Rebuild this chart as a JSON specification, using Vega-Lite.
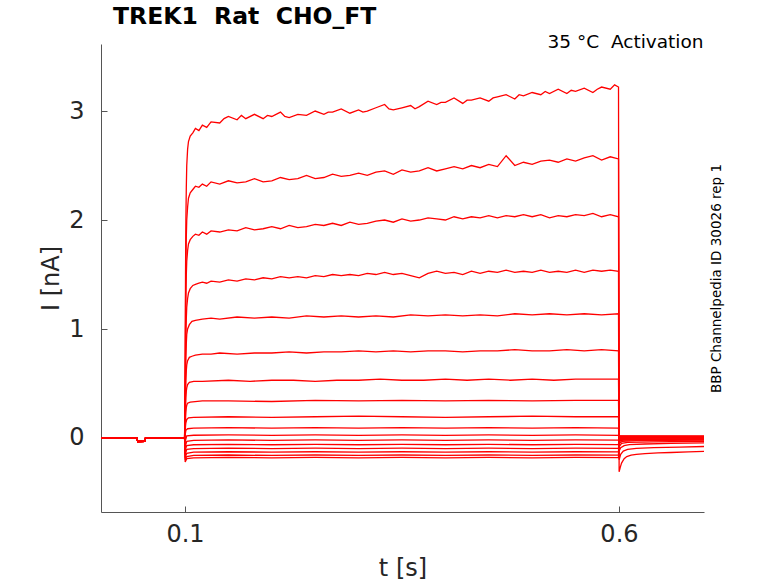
{
"$schema": "https://vega.github.io/schema/vega-lite/v6.json",
"width": 603, "height": 468,
"autosize": {"type": "none"},
"padding": {"left": 101, "top": 44, "right": 74, "bottom": 71},
"background": "white",
"title": {"text": "TREK1\u00a0\u00a0Rat\u00a0\u00a0CHO_FT", "anchor": "start", "frame": "group", "dx": 12, "offset": 4, "fontSize": 23.5, "fontWeight": "bold", "font": "DejaVu Sans", "color": "#000000"},
"config": {"view": {"stroke": null}, "font": "DejaVu Sans", "axis": {"grid": false}},
"datasets": {"traces": [
{"s":1,"t":0.0032,"v":0},{"s":1,"t":0.0445,"v":0.001},{"s":1,"t":0.0455,"v":-0.032},{"s":1,"t":0.0535,"v":-0.03},{"s":1,"t":0.0545,"v":0.001},{"s":1,"t":0.0995,"v":0},
{"s":1,"t":0.1002,"v":0.6},{"s":1,"t":0.1006,"v":1.5},{"s":1,"t":0.101,"v":2.0},{"s":1,"t":0.1015,"v":2.3},{"s":1,"t":0.102,"v":2.5},{"s":1,"t":0.103,"v":2.65},{"s":1,"t":0.104,"v":2.72},{"s":1,"t":0.106,"v":2.77},{"s":1,"t":0.109,"v":2.8},{"s":1,"t":0.112,"v":2.84},{"s":1,"t":0.116,"v":2.82},{"s":1,"t":0.12,"v":2.87},{"s":1,"t":0.125,"v":2.85},{"s":1,"t":0.13,"v":2.9},
{"s":1,"t":0.14,"v":2.89},{"s":1,"t":0.145,"v":2.93},{"s":1,"t":0.15,"v":2.95},{"s":1,"t":0.16,"v":2.92},{"s":1,"t":0.165,"v":2.96},{"s":1,"t":0.17,"v":2.93},{"s":1,"t":0.18,"v":2.97},{"s":1,"t":0.19,"v":2.93},{"s":1,"t":0.195,"v":2.96},{"s":1,"t":0.2,"v":2.95},{"s":1,"t":0.21,"v":2.99},{"s":1,"t":0.215,"v":2.95},{"s":1,"t":0.22,"v":2.94},{"s":1,"t":0.23,"v":2.97},{"s":1,"t":0.24,"v":2.96},{"s":1,"t":0.25,"v":3.0},{"s":1,"t":0.26,"v":2.97},{"s":1,"t":0.265,"v":2.99},{"s":1,"t":0.27,"v":2.99},{"s":1,"t":0.28,"v":3.02},{"s":1,"t":0.29,"v":2.98},{"s":1,"t":0.3,"v":3.01},{"s":1,"t":0.305,"v":2.99},{"s":1,"t":0.31,"v":3.0},{"s":1,"t":0.32,"v":3.03},{"s":1,"t":0.33,"v":3.06},{"s":1,"t":0.335,"v":3.02},{"s":1,"t":0.34,"v":3.01},{"s":1,"t":0.35,"v":3.03},{"s":1,"t":0.36,"v":3.05},{"s":1,"t":0.365,"v":3.02},{"s":1,"t":0.37,"v":3.04},{"s":1,"t":0.38,"v":3.09},{"s":1,"t":0.39,"v":3.06},{"s":1,"t":0.395,"v":3.08},{"s":1,"t":0.4,"v":3.08},{"s":1,"t":0.41,"v":3.12},{"s":1,"t":0.42,"v":3.07},{"s":1,"t":0.425,"v":3.1},{"s":1,"t":0.43,"v":3.1},{"s":1,"t":0.44,"v":3.12},{"s":1,"t":0.45,"v":3.09},{"s":1,"t":0.455,"v":3.12},{"s":1,"t":0.46,"v":3.13},{"s":1,"t":0.47,"v":3.15},{"s":1,"t":0.48,"v":3.11},{"s":1,"t":0.485,"v":3.15},{"s":1,"t":0.49,"v":3.14},{"s":1,"t":0.5,"v":3.17},{"s":1,"t":0.51,"v":3.15},{"s":1,"t":0.515,"v":3.18},{"s":1,"t":0.52,"v":3.16},{"s":1,"t":0.53,"v":3.2},{"s":1,"t":0.54,"v":3.16},{"s":1,"t":0.545,"v":3.19},{"s":1,"t":0.55,"v":3.18},{"s":1,"t":0.56,"v":3.21},{"s":1,"t":0.57,"v":3.17},{"s":1,"t":0.575,"v":3.2},{"s":1,"t":0.58,"v":3.22},{"s":1,"t":0.59,"v":3.2},{"s":1,"t":0.595,"v":3.24},{"s":1,"t":0.5995,"v":3.22},
{"s":1,"t":0.6002,"v":-0.31},{"s":1,"t":0.6015,"v":-0.27},{"s":1,"t":0.603,"v":-0.23},{"s":1,"t":0.606,"v":-0.19},{"s":1,"t":0.609,"v":-0.17},{"s":1,"t":0.614,"v":-0.158},{"s":1,"t":0.62,"v":-0.15},{"s":1,"t":0.63,"v":-0.143},{"s":1,"t":0.645,"v":-0.137},{"s":1,"t":0.66,"v":-0.133},{"s":1,"t":0.68,"v":-0.128},{"s":1,"t":0.698,"v":-0.122},
{"s":2,"t":0.0032,"v":0},{"s":2,"t":0.0445,"v":0.001},{"s":2,"t":0.0455,"v":-0.032},{"s":2,"t":0.0535,"v":-0.03},{"s":2,"t":0.0545,"v":0.001},{"s":2,"t":0.0995,"v":0},
{"s":2,"t":0.1002,"v":0.5},{"s":2,"t":0.1006,"v":1.2},{"s":2,"t":0.101,"v":1.6},{"s":2,"t":0.1015,"v":1.85},{"s":2,"t":0.102,"v":2.0},{"s":2,"t":0.103,"v":2.12},{"s":2,"t":0.104,"v":2.2},{"s":2,"t":0.106,"v":2.25},{"s":2,"t":0.109,"v":2.28},{"s":2,"t":0.112,"v":2.31},{"s":2,"t":0.116,"v":2.3},{"s":2,"t":0.12,"v":2.33},{"s":2,"t":0.125,"v":2.31},{"s":2,"t":0.13,"v":2.35},
{"s":2,"t":0.14,"v":2.33},{"s":2,"t":0.15,"v":2.36},{"s":2,"t":0.16,"v":2.34},{"s":2,"t":0.17,"v":2.35},{"s":2,"t":0.18,"v":2.38},{"s":2,"t":0.19,"v":2.35},{"s":2,"t":0.2,"v":2.36},{"s":2,"t":0.21,"v":2.39},{"s":2,"t":0.22,"v":2.37},{"s":2,"t":0.23,"v":2.38},{"s":2,"t":0.24,"v":2.41},{"s":2,"t":0.25,"v":2.38},{"s":2,"t":0.26,"v":2.39},{"s":2,"t":0.27,"v":2.42},{"s":2,"t":0.28,"v":2.4},{"s":2,"t":0.29,"v":2.41},{"s":2,"t":0.3,"v":2.43},{"s":2,"t":0.31,"v":2.41},{"s":2,"t":0.32,"v":2.44},{"s":2,"t":0.33,"v":2.45},{"s":2,"t":0.34,"v":2.42},{"s":2,"t":0.35,"v":2.46},{"s":2,"t":0.36,"v":2.44},{"s":2,"t":0.37,"v":2.45},{"s":2,"t":0.38,"v":2.48},{"s":2,"t":0.39,"v":2.45},{"s":2,"t":0.4,"v":2.47},{"s":2,"t":0.41,"v":2.49},{"s":2,"t":0.42,"v":2.47},{"s":2,"t":0.43,"v":2.5},{"s":2,"t":0.44,"v":2.48},{"s":2,"t":0.45,"v":2.51},{"s":2,"t":0.46,"v":2.49},{"s":2,"t":0.47,"v":2.59},{"s":2,"t":0.48,"v":2.5},{"s":2,"t":0.49,"v":2.53},{"s":2,"t":0.5,"v":2.51},{"s":2,"t":0.51,"v":2.54},{"s":2,"t":0.52,"v":2.55},{"s":2,"t":0.53,"v":2.53},{"s":2,"t":0.54,"v":2.56},{"s":2,"t":0.55,"v":2.54},{"s":2,"t":0.56,"v":2.57},{"s":2,"t":0.57,"v":2.59},{"s":2,"t":0.58,"v":2.55},{"s":2,"t":0.59,"v":2.58},{"s":2,"t":0.5995,"v":2.56},
{"s":2,"t":0.6002,"v":-0.2},{"s":2,"t":0.602,"v":-0.15},{"s":2,"t":0.605,"v":-0.12},{"s":2,"t":0.61,"v":-0.105},{"s":2,"t":0.62,"v":-0.095},{"s":2,"t":0.64,"v":-0.088},{"s":2,"t":0.67,"v":-0.083},{"s":2,"t":0.698,"v":-0.078},
{"s":3,"t":0.0032,"v":0},{"s":3,"t":0.0445,"v":0.001},{"s":3,"t":0.0455,"v":-0.032},{"s":3,"t":0.0535,"v":-0.03},{"s":3,"t":0.0545,"v":0.001},{"s":3,"t":0.0995,"v":0},
{"s":3,"t":0.1002,"v":0.4},{"s":3,"t":0.1006,"v":0.95},{"s":3,"t":0.101,"v":1.3},{"s":3,"t":0.1015,"v":1.5},{"s":3,"t":0.102,"v":1.62},{"s":3,"t":0.103,"v":1.72},{"s":3,"t":0.104,"v":1.78},{"s":3,"t":0.106,"v":1.82},{"s":3,"t":0.109,"v":1.85},{"s":3,"t":0.112,"v":1.87},{"s":3,"t":0.116,"v":1.86},{"s":3,"t":0.12,"v":1.89},{"s":3,"t":0.125,"v":1.87},{"s":3,"t":0.13,"v":1.9},
{"s":3,"t":0.14,"v":1.89},{"s":3,"t":0.15,"v":1.91},{"s":3,"t":0.16,"v":1.9},{"s":3,"t":0.17,"v":1.93},{"s":3,"t":0.18,"v":1.91},{"s":3,"t":0.19,"v":1.92},{"s":3,"t":0.2,"v":1.94},{"s":3,"t":0.21,"v":1.92},{"s":3,"t":0.22,"v":1.95},{"s":3,"t":0.23,"v":1.93},{"s":3,"t":0.24,"v":1.94},{"s":3,"t":0.25,"v":1.96},{"s":3,"t":0.26,"v":1.95},{"s":3,"t":0.27,"v":1.97},{"s":3,"t":0.28,"v":1.95},{"s":3,"t":0.29,"v":1.98},{"s":3,"t":0.3,"v":1.96},{"s":3,"t":0.31,"v":1.97},{"s":3,"t":0.32,"v":1.99},{"s":3,"t":0.33,"v":2.0},{"s":3,"t":0.34,"v":1.98},{"s":3,"t":0.35,"v":2.01},{"s":3,"t":0.36,"v":1.99},{"s":3,"t":0.37,"v":2.0},{"s":3,"t":0.38,"v":2.02},{"s":3,"t":0.39,"v":2.01},{"s":3,"t":0.4,"v":2.0},{"s":3,"t":0.41,"v":2.03},{"s":3,"t":0.42,"v":2.01},{"s":3,"t":0.43,"v":2.03},{"s":3,"t":0.44,"v":2.02},{"s":3,"t":0.45,"v":2.04},{"s":3,"t":0.46,"v":2.02},{"s":3,"t":0.47,"v":2.04},{"s":3,"t":0.48,"v":2.03},{"s":3,"t":0.49,"v":2.05},{"s":3,"t":0.5,"v":2.03},{"s":3,"t":0.51,"v":2.05},{"s":3,"t":0.52,"v":2.02},{"s":3,"t":0.53,"v":2.04},{"s":3,"t":0.54,"v":2.03},{"s":3,"t":0.55,"v":2.05},{"s":3,"t":0.56,"v":2.04},{"s":3,"t":0.57,"v":2.06},{"s":3,"t":0.58,"v":2.03},{"s":3,"t":0.59,"v":2.05},{"s":3,"t":0.5995,"v":2.03},
{"s":3,"t":0.6002,"v":-0.12},{"s":3,"t":0.602,"v":-0.09},{"s":3,"t":0.606,"v":-0.07},{"s":3,"t":0.612,"v":-0.06},{"s":3,"t":0.63,"v":-0.055},{"s":3,"t":0.66,"v":-0.05},{"s":3,"t":0.698,"v":-0.045},
{"s":4,"t":0.0032,"v":0},{"s":4,"t":0.0445,"v":0.001},{"s":4,"t":0.0455,"v":-0.032},{"s":4,"t":0.0535,"v":-0.03},{"s":4,"t":0.0545,"v":0.001},{"s":4,"t":0.0995,"v":0},
{"s":4,"t":0.1002,"v":0.3},{"s":4,"t":0.1006,"v":0.7},{"s":4,"t":0.101,"v":0.95},{"s":4,"t":0.1015,"v":1.1},{"s":4,"t":0.102,"v":1.2},{"s":4,"t":0.103,"v":1.28},{"s":4,"t":0.104,"v":1.33},{"s":4,"t":0.106,"v":1.37},{"s":4,"t":0.109,"v":1.4},{"s":4,"t":0.112,"v":1.41},{"s":4,"t":0.116,"v":1.42},{"s":4,"t":0.12,"v":1.43},{"s":4,"t":0.125,"v":1.42},{"s":4,"t":0.13,"v":1.44},
{"s":4,"t":0.14,"v":1.43},{"s":4,"t":0.15,"v":1.45},{"s":4,"t":0.16,"v":1.44},{"s":4,"t":0.17,"v":1.46},{"s":4,"t":0.18,"v":1.45},{"s":4,"t":0.19,"v":1.47},{"s":4,"t":0.2,"v":1.46},{"s":4,"t":0.21,"v":1.48},{"s":4,"t":0.22,"v":1.47},{"s":4,"t":0.23,"v":1.48},{"s":4,"t":0.24,"v":1.47},{"s":4,"t":0.25,"v":1.49},{"s":4,"t":0.26,"v":1.48},{"s":4,"t":0.27,"v":1.5},{"s":4,"t":0.28,"v":1.49},{"s":4,"t":0.29,"v":1.5},{"s":4,"t":0.3,"v":1.49},{"s":4,"t":0.31,"v":1.51},{"s":4,"t":0.32,"v":1.5},{"s":4,"t":0.33,"v":1.52},{"s":4,"t":0.34,"v":1.5},{"s":4,"t":0.35,"v":1.51},{"s":4,"t":0.36,"v":1.49},{"s":4,"t":0.37,"v":1.47},{"s":4,"t":0.38,"v":1.51},{"s":4,"t":0.39,"v":1.53},{"s":4,"t":0.4,"v":1.51},{"s":4,"t":0.41,"v":1.52},{"s":4,"t":0.42,"v":1.5},{"s":4,"t":0.43,"v":1.53},{"s":4,"t":0.44,"v":1.51},{"s":4,"t":0.45,"v":1.53},{"s":4,"t":0.46,"v":1.52},{"s":4,"t":0.47,"v":1.54},{"s":4,"t":0.48,"v":1.52},{"s":4,"t":0.49,"v":1.53},{"s":4,"t":0.5,"v":1.52},{"s":4,"t":0.51,"v":1.54},{"s":4,"t":0.52,"v":1.52},{"s":4,"t":0.53,"v":1.53},{"s":4,"t":0.54,"v":1.52},{"s":4,"t":0.55,"v":1.54},{"s":4,"t":0.56,"v":1.52},{"s":4,"t":0.57,"v":1.54},{"s":4,"t":0.58,"v":1.53},{"s":4,"t":0.59,"v":1.54},{"s":4,"t":0.5995,"v":1.53},
{"s":4,"t":0.6002,"v":-0.08},{"s":4,"t":0.603,"v":-0.05},{"s":4,"t":0.61,"v":-0.04},{"s":4,"t":0.64,"v":-0.035},{"s":4,"t":0.698,"v":-0.03},
{"s":5,"t":0.0032,"v":0},{"s":5,"t":0.0445,"v":0.001},{"s":5,"t":0.0455,"v":-0.032},{"s":5,"t":0.0535,"v":-0.03},{"s":5,"t":0.0545,"v":0.001},{"s":5,"t":0.0995,"v":0},
{"s":5,"t":0.1002,"v":0.25},{"s":5,"t":0.1006,"v":0.55},{"s":5,"t":0.101,"v":0.75},{"s":5,"t":0.1015,"v":0.87},{"s":5,"t":0.102,"v":0.95},{"s":5,"t":0.103,"v":1.0},{"s":5,"t":0.105,"v":1.04},{"s":5,"t":0.108,"v":1.07},{"s":5,"t":0.112,"v":1.08},{"s":5,"t":0.12,"v":1.09},{"s":5,"t":0.13,"v":1.1},
{"s":5,"t":0.14,"v":1.09},{"s":5,"t":0.16,"v":1.11},{"s":5,"t":0.18,"v":1.1},{"s":5,"t":0.2,"v":1.11},{"s":5,"t":0.22,"v":1.1},{"s":5,"t":0.24,"v":1.12},{"s":5,"t":0.26,"v":1.11},{"s":5,"t":0.28,"v":1.12},{"s":5,"t":0.3,"v":1.11},{"s":5,"t":0.32,"v":1.12},{"s":5,"t":0.34,"v":1.11},{"s":5,"t":0.36,"v":1.13},{"s":5,"t":0.38,"v":1.12},{"s":5,"t":0.4,"v":1.13},{"s":5,"t":0.42,"v":1.12},{"s":5,"t":0.44,"v":1.13},{"s":5,"t":0.46,"v":1.12},{"s":5,"t":0.48,"v":1.14},{"s":5,"t":0.5,"v":1.13},{"s":5,"t":0.52,"v":1.14},{"s":5,"t":0.54,"v":1.13},{"s":5,"t":0.56,"v":1.14},{"s":5,"t":0.58,"v":1.13},{"s":5,"t":0.5995,"v":1.14},
{"s":5,"t":0.6002,"v":-0.05},{"s":5,"t":0.604,"v":-0.03},{"s":5,"t":0.62,"v":-0.025},{"s":5,"t":0.698,"v":-0.02},
{"s":6,"t":0.0032,"v":0},{"s":6,"t":0.0445,"v":0.001},{"s":6,"t":0.0455,"v":-0.032},{"s":6,"t":0.0535,"v":-0.03},{"s":6,"t":0.0545,"v":0.001},{"s":6,"t":0.0995,"v":0},
{"s":6,"t":0.1002,"v":0.18},{"s":6,"t":0.1006,"v":0.4},{"s":6,"t":0.101,"v":0.53},{"s":6,"t":0.1015,"v":0.62},{"s":6,"t":0.102,"v":0.67},{"s":6,"t":0.103,"v":0.71},{"s":6,"t":0.105,"v":0.74},{"s":6,"t":0.108,"v":0.75},{"s":6,"t":0.112,"v":0.76},{"s":6,"t":0.12,"v":0.77},{"s":6,"t":0.13,"v":0.77},
{"s":6,"t":0.14,"v":0.78},{"s":6,"t":0.16,"v":0.77},{"s":6,"t":0.18,"v":0.78},{"s":6,"t":0.2,"v":0.78},{"s":6,"t":0.22,"v":0.79},{"s":6,"t":0.24,"v":0.78},{"s":6,"t":0.26,"v":0.79},{"s":6,"t":0.28,"v":0.79},{"s":6,"t":0.3,"v":0.8},{"s":6,"t":0.32,"v":0.79},{"s":6,"t":0.34,"v":0.8},{"s":6,"t":0.36,"v":0.79},{"s":6,"t":0.38,"v":0.8},{"s":6,"t":0.4,"v":0.8},{"s":6,"t":0.42,"v":0.79},{"s":6,"t":0.44,"v":0.8},{"s":6,"t":0.46,"v":0.8},{"s":6,"t":0.48,"v":0.81},{"s":6,"t":0.5,"v":0.8},{"s":6,"t":0.52,"v":0.8},{"s":6,"t":0.54,"v":0.81},{"s":6,"t":0.56,"v":0.8},{"s":6,"t":0.58,"v":0.81},{"s":6,"t":0.5995,"v":0.8},
{"s":6,"t":0.6002,"v":-0.035},{"s":6,"t":0.604,"v":-0.02},{"s":6,"t":0.62,"v":-0.018},{"s":6,"t":0.698,"v":-0.015},
{"s":7,"t":0.0032,"v":0},{"s":7,"t":0.0445,"v":0.001},{"s":7,"t":0.0455,"v":-0.032},{"s":7,"t":0.0535,"v":-0.03},{"s":7,"t":0.0545,"v":0.001},{"s":7,"t":0.0995,"v":0},
{"s":7,"t":0.1002,"v":0.12},{"s":7,"t":0.1006,"v":0.28},{"s":7,"t":0.101,"v":0.37},{"s":7,"t":0.1015,"v":0.43},{"s":7,"t":0.102,"v":0.46},{"s":7,"t":0.103,"v":0.49},{"s":7,"t":0.105,"v":0.51},{"s":7,"t":0.11,"v":0.52},{"s":7,"t":0.12,"v":0.52},
{"s":7,"t":0.15,"v":0.53},{"s":7,"t":0.175,"v":0.52},{"s":7,"t":0.2,"v":0.53},{"s":7,"t":0.225,"v":0.53},{"s":7,"t":0.25,"v":0.52},{"s":7,"t":0.275,"v":0.53},{"s":7,"t":0.3,"v":0.53},{"s":7,"t":0.325,"v":0.54},{"s":7,"t":0.35,"v":0.53},{"s":7,"t":0.375,"v":0.53},{"s":7,"t":0.4,"v":0.54},{"s":7,"t":0.425,"v":0.53},{"s":7,"t":0.45,"v":0.54},{"s":7,"t":0.475,"v":0.53},{"s":7,"t":0.5,"v":0.54},{"s":7,"t":0.525,"v":0.53},{"s":7,"t":0.55,"v":0.54},{"s":7,"t":0.575,"v":0.54},{"s":7,"t":0.5995,"v":0.54},
{"s":7,"t":0.6002,"v":-0.025},{"s":7,"t":0.605,"v":-0.015},{"s":7,"t":0.698,"v":-0.012},
{"s":8,"t":0.0032,"v":0},{"s":8,"t":0.0445,"v":0.001},{"s":8,"t":0.0455,"v":-0.032},{"s":8,"t":0.0535,"v":-0.03},{"s":8,"t":0.0545,"v":0.001},{"s":8,"t":0.0995,"v":0},
{"s":8,"t":0.1002,"v":0.08},{"s":8,"t":0.1006,"v":0.18},{"s":8,"t":0.101,"v":0.24},{"s":8,"t":0.1015,"v":0.28},{"s":8,"t":0.102,"v":0.3},{"s":8,"t":0.103,"v":0.32},{"s":8,"t":0.106,"v":0.33},{"s":8,"t":0.12,"v":0.34},
{"s":8,"t":0.15,"v":0.34},{"s":8,"t":0.2,"v":0.335},{"s":8,"t":0.25,"v":0.345},{"s":8,"t":0.3,"v":0.34},{"s":8,"t":0.35,"v":0.345},{"s":8,"t":0.4,"v":0.34},{"s":8,"t":0.45,"v":0.345},{"s":8,"t":0.5,"v":0.34},{"s":8,"t":0.55,"v":0.345},{"s":8,"t":0.5995,"v":0.345},
{"s":8,"t":0.6002,"v":-0.02},{"s":8,"t":0.605,"v":-0.01},{"s":8,"t":0.698,"v":-0.01},
{"s":9,"t":0.0032,"v":0},{"s":9,"t":0.0445,"v":0.001},{"s":9,"t":0.0455,"v":-0.032},{"s":9,"t":0.0535,"v":-0.03},{"s":9,"t":0.0545,"v":0.001},{"s":9,"t":0.0995,"v":0},
{"s":9,"t":0.1002,"v":0.05},{"s":9,"t":0.1006,"v":0.11},{"s":9,"t":0.101,"v":0.14},{"s":9,"t":0.102,"v":0.17},{"s":9,"t":0.104,"v":0.185},{"s":9,"t":0.11,"v":0.19},{"s":9,"t":0.15,"v":0.195},{"s":9,"t":0.2,"v":0.19},{"s":9,"t":0.25,"v":0.195},{"s":9,"t":0.3,"v":0.2},{"s":9,"t":0.35,"v":0.195},{"s":9,"t":0.4,"v":0.19},{"s":9,"t":0.45,"v":0.195},{"s":9,"t":0.5,"v":0.2},{"s":9,"t":0.55,"v":0.195},{"s":9,"t":0.5995,"v":0.195},
{"s":9,"t":0.6002,"v":-0.012},{"s":9,"t":0.698,"v":-0.006},
{"s":10,"t":0.0032,"v":0},{"s":10,"t":0.0445,"v":0.001},{"s":10,"t":0.0455,"v":-0.032},{"s":10,"t":0.0535,"v":-0.03},{"s":10,"t":0.0545,"v":0.001},{"s":10,"t":0.0995,"v":0},
{"s":10,"t":0.1002,"v":0.03},{"s":10,"t":0.101,"v":0.07},{"s":10,"t":0.103,"v":0.085},{"s":10,"t":0.11,"v":0.09},{"s":10,"t":0.15,"v":0.095},{"s":10,"t":0.2,"v":0.09},{"s":10,"t":0.25,"v":0.095},{"s":10,"t":0.3,"v":0.09},{"s":10,"t":0.35,"v":0.095},{"s":10,"t":0.4,"v":0.09},{"s":10,"t":0.45,"v":0.095},{"s":10,"t":0.5,"v":0.09},{"s":10,"t":0.55,"v":0.095},{"s":10,"t":0.5995,"v":0.09},
{"s":10,"t":0.6002,"v":-0.004},{"s":10,"t":0.698,"v":-0.002},
{"s":11,"t":0.0032,"v":0},{"s":11,"t":0.0445,"v":0.001},{"s":11,"t":0.0455,"v":-0.032},{"s":11,"t":0.0535,"v":-0.03},{"s":11,"t":0.0545,"v":0.001},{"s":11,"t":0.0995,"v":0},
{"s":11,"t":0.1002,"v":-0.03},{"s":11,"t":0.102,"v":0.02},{"s":11,"t":0.11,"v":0.025},{"s":11,"t":0.15,"v":0.028},{"s":11,"t":0.2,"v":0.024},{"s":11,"t":0.25,"v":0.028},{"s":11,"t":0.3,"v":0.024},{"s":11,"t":0.35,"v":0.028},{"s":11,"t":0.4,"v":0.024},{"s":11,"t":0.45,"v":0.028},{"s":11,"t":0.5,"v":0.024},{"s":11,"t":0.55,"v":0.028},{"s":11,"t":0.5995,"v":0.025},
{"s":11,"t":0.6002,"v":0.002},{"s":11,"t":0.698,"v":0.003},
{"s":12,"t":0.0032,"v":0},{"s":12,"t":0.0445,"v":0.001},{"s":12,"t":0.0455,"v":-0.032},{"s":12,"t":0.0535,"v":-0.03},{"s":12,"t":0.0545,"v":0.001},{"s":12,"t":0.0995,"v":0},
{"s":12,"t":0.1002,"v":-0.08},{"s":12,"t":0.102,"v":-0.03},{"s":12,"t":0.11,"v":-0.022},{"s":12,"t":0.15,"v":-0.018},{"s":12,"t":0.2,"v":-0.022},{"s":12,"t":0.25,"v":-0.018},{"s":12,"t":0.3,"v":-0.022},{"s":12,"t":0.35,"v":-0.018},{"s":12,"t":0.4,"v":-0.022},{"s":12,"t":0.45,"v":-0.018},{"s":12,"t":0.5,"v":-0.022},{"s":12,"t":0.55,"v":-0.018},{"s":12,"t":0.5995,"v":-0.02},
{"s":12,"t":0.6002,"v":0.006},{"s":12,"t":0.698,"v":0.006},
{"s":13,"t":0.0032,"v":0},{"s":13,"t":0.0445,"v":0.001},{"s":13,"t":0.0455,"v":-0.032},{"s":13,"t":0.0535,"v":-0.03},{"s":13,"t":0.0545,"v":0.001},{"s":13,"t":0.0995,"v":0},
{"s":13,"t":0.1002,"v":-0.11},{"s":13,"t":0.102,"v":-0.07},{"s":13,"t":0.11,"v":-0.062},{"s":13,"t":0.15,"v":-0.058},{"s":13,"t":0.2,"v":-0.062},{"s":13,"t":0.25,"v":-0.058},{"s":13,"t":0.3,"v":-0.062},{"s":13,"t":0.35,"v":-0.058},{"s":13,"t":0.4,"v":-0.062},{"s":13,"t":0.45,"v":-0.058},{"s":13,"t":0.5,"v":-0.062},{"s":13,"t":0.55,"v":-0.058},{"s":13,"t":0.5995,"v":-0.06},
{"s":13,"t":0.6002,"v":0.01},{"s":13,"t":0.698,"v":0.009},
{"s":14,"t":0.0032,"v":0},{"s":14,"t":0.0445,"v":0.001},{"s":14,"t":0.0455,"v":-0.032},{"s":14,"t":0.0535,"v":-0.03},{"s":14,"t":0.0545,"v":0.001},{"s":14,"t":0.0995,"v":0},
{"s":14,"t":0.1002,"v":-0.15},{"s":14,"t":0.102,"v":-0.105},{"s":14,"t":0.11,"v":-0.097},{"s":14,"t":0.15,"v":-0.093},{"s":14,"t":0.2,"v":-0.097},{"s":14,"t":0.25,"v":-0.093},{"s":14,"t":0.3,"v":-0.097},{"s":14,"t":0.35,"v":-0.093},{"s":14,"t":0.4,"v":-0.097},{"s":14,"t":0.45,"v":-0.093},{"s":14,"t":0.5,"v":-0.097},{"s":14,"t":0.55,"v":-0.093},{"s":14,"t":0.5995,"v":-0.095},
{"s":14,"t":0.6002,"v":0.013},{"s":14,"t":0.698,"v":0.012},
{"s":15,"t":0.0032,"v":0},{"s":15,"t":0.0445,"v":0.001},{"s":15,"t":0.0455,"v":-0.032},{"s":15,"t":0.0535,"v":-0.03},{"s":15,"t":0.0545,"v":0.001},{"s":15,"t":0.0995,"v":0},
{"s":15,"t":0.1002,"v":-0.18},{"s":15,"t":0.102,"v":-0.14},{"s":15,"t":0.11,"v":-0.13},{"s":15,"t":0.15,"v":-0.126},{"s":15,"t":0.2,"v":-0.13},{"s":15,"t":0.25,"v":-0.126},{"s":15,"t":0.3,"v":-0.13},{"s":15,"t":0.35,"v":-0.126},{"s":15,"t":0.4,"v":-0.13},{"s":15,"t":0.45,"v":-0.126},{"s":15,"t":0.5,"v":-0.13},{"s":15,"t":0.55,"v":-0.126},{"s":15,"t":0.5995,"v":-0.128},
{"s":15,"t":0.6002,"v":0.015},{"s":15,"t":0.698,"v":0.014},
{"s":16,"t":0.0032,"v":0},{"s":16,"t":0.0445,"v":0.001},{"s":16,"t":0.0455,"v":-0.032},{"s":16,"t":0.0535,"v":-0.03},{"s":16,"t":0.0545,"v":0.001},{"s":16,"t":0.0995,"v":0},
{"s":16,"t":0.1002,"v":-0.2},{"s":16,"t":0.102,"v":-0.17},{"s":16,"t":0.11,"v":-0.16},{"s":16,"t":0.15,"v":-0.156},{"s":16,"t":0.2,"v":-0.16},{"s":16,"t":0.25,"v":-0.156},{"s":16,"t":0.3,"v":-0.16},{"s":16,"t":0.35,"v":-0.156},{"s":16,"t":0.4,"v":-0.16},{"s":16,"t":0.45,"v":-0.156},{"s":16,"t":0.5,"v":-0.16},{"s":16,"t":0.55,"v":-0.156},{"s":16,"t":0.5995,"v":-0.158},
{"s":16,"t":0.6002,"v":0.017},{"s":16,"t":0.698,"v":0.016},
{"s":17,"t":0.0032,"v":0},{"s":17,"t":0.0445,"v":0.001},{"s":17,"t":0.0455,"v":-0.032},{"s":17,"t":0.0535,"v":-0.03},{"s":17,"t":0.0545,"v":0.001},{"s":17,"t":0.0995,"v":0},
{"s":17,"t":0.1002,"v":-0.22},{"s":17,"t":0.102,"v":-0.19},{"s":17,"t":0.11,"v":-0.182},{"s":17,"t":0.15,"v":-0.178},{"s":17,"t":0.2,"v":-0.182},{"s":17,"t":0.25,"v":-0.178},{"s":17,"t":0.3,"v":-0.182},{"s":17,"t":0.35,"v":-0.178},{"s":17,"t":0.4,"v":-0.182},{"s":17,"t":0.45,"v":-0.178},{"s":17,"t":0.5,"v":-0.182},{"s":17,"t":0.55,"v":-0.178},{"s":17,"t":0.5995,"v":-0.18},
{"s":17,"t":0.6002,"v":0.02},{"s":17,"t":0.698,"v":0.018}
]},
"layer": [
{"data": {"name": "traces"},
 "mark": {"type": "line", "color": "#ff0000", "strokeWidth": 1.3, "clip": true},
 "encoding": {
  "x": {"field": "t", "type": "quantitative", "scale": {"domain": [0.0032, 0.698], "nice": false, "zero": false},
        "axis": {"values": [0.1, 0.6], "format": ".1f", "title": "t [s]", "tickSize": -6, "labelPadding": 35, "labelBaseline": "alphabetic", "labelFontSize": 24, "labelFont": "DejaVu Sans", "labelColor": "#262626", "titleFontSize": 24, "titleFont": "DejaVu Sans", "titleFontWeight": "normal", "titleColor": "#262626", "titleY": 63, "titleBaseline": "alphabetic", "domainColor": "#555555", "tickColor": "#555555", "labelFlush": false}},
  "y": {"field": "v", "type": "quantitative", "scale": {"domain": [-0.679, 3.615], "nice": false, "zero": false},
        "axis": {"values": [0, 1, 2, 3], "format": "d", "title": "I [nA]", "tickSize": -6, "labelPadding": 23, "labelFontSize": 24, "labelFont": "DejaVu Sans", "labelColor": "#262626", "titleFontSize": 24, "titleFont": "DejaVu Sans", "titleFontWeight": "normal", "titleColor": "#262626", "titleX": -43, "titleY": 234, "titleAngle": 270, "titleBaseline": "alphabetic", "titleAlign": "center", "domainColor": "#555555", "tickColor": "#555555", "labelFlush": false}},
  "detail": {"field": "s", "type": "nominal"}
 }},
{"data": {"values": [{}]},
 "mark": {"type": "rule", "strokeOpacity": 0},
 "encoding": {
  "x": {"datum": 0.1, "type": "quantitative", "scale": {"domain": [0.0032, 0.698], "nice": false, "zero": false},
        "axis": {"orient": "top", "labels": false, "ticks": false, "domain": false, "title": "35 °C\u00a0\u00a0Activation", "titleFontSize": 18.5, "titleFont": "DejaVu Sans", "titleFontWeight": "normal", "titleColor": "#000000", "titleX": 602, "titleY": 3, "titleAlign": "right", "titleBaseline": "alphabetic"}},
  "y": {"datum": 0, "type": "quantitative", "scale": {"domain": [-0.679, 3.615], "nice": false, "zero": false},
        "axis": {"orient": "right", "labels": false, "ticks": false, "domain": false, "title": "BBP Channelpedia ID 30026 rep 1", "titleFontSize": 13.5, "titleFont": "DejaVu Sans", "titleFontWeight": "normal", "titleColor": "#000000", "titleX": 16, "titleY": 234, "titleAngle": 270, "titleAlign": "center", "titleBaseline": "alphabetic"}}
 }}
],
"resolve": {"scale": {"x": "independent", "y": "independent"}, "axis": {"x": "independent", "y": "independent"}}
}
